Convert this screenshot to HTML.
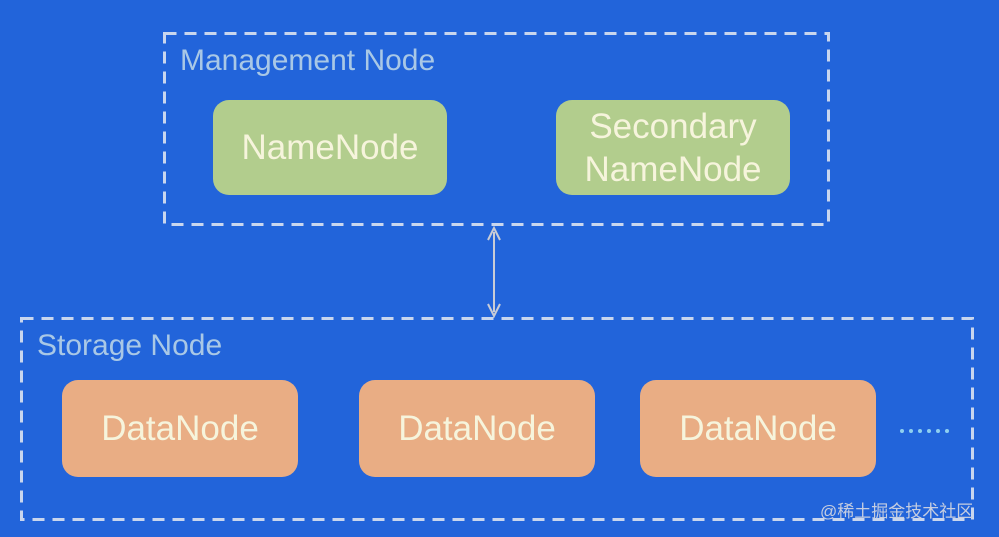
<!DOCTYPE html><html><head><style>
body{margin:0;width:999px;height:537px;background:#2264da;position:relative;overflow:hidden;font-family:"Liberation Sans",sans-serif}
.b{position:absolute;border-radius:16px;display:flex;align-items:center;justify-content:center;text-align:center;color:#f6f4dc;font-size:35px;line-height:43px}
.g{background:#b2cd8d;top:100px;height:95px;width:234px}
.o{background:#e9ad84;top:380px;height:97px;width:236px}
.l{position:absolute;color:#a9c8e6;font-size:30px}
</style></head><body>
<svg style="position:absolute;left:0;top:0" width="999" height="537">
<rect x="164.5" y="33.5" width="664" height="191" fill="none" stroke="#c9d6ee" stroke-width="3" stroke-dasharray="12 8"/>
<rect x="21.5" y="318.5" width="951" height="201" fill="none" stroke="#c9d6ee" stroke-width="3" stroke-dasharray="12 8"/>
<line x1="494" y1="232" x2="494" y2="312" stroke="#c9ccd6" stroke-width="2"/>
<path d="M488 240 L494 228 L500 240" fill="none" stroke="#c9ccd6" stroke-width="2"/>
<path d="M488 304 L494 316 L500 304" fill="none" stroke="#c9ccd6" stroke-width="2"/>
<g fill="#8fd0f0"><circle cx="902" cy="431" r="2"/><circle cx="911" cy="431" r="2"/><circle cx="920" cy="431" r="2"/><circle cx="929" cy="431" r="2"/><circle cx="938" cy="431" r="2"/><circle cx="947" cy="431" r="2"/></g>
</svg>
<div class="l" style="left:180px;top:44px">Management Node</div>
<div class="b g" style="left:213px">NameNode</div>
<div class="b g" style="left:556px">Secondary<br>NameNode</div>
<div class="l" style="left:37px;top:329px">Storage Node</div>
<div class="b o" style="left:62px">DataNode</div>
<div class="b o" style="left:359px">DataNode</div>
<div class="b o" style="left:640px">DataNode</div>
<div style="position:absolute;left:820px;top:497px;color:#c5cde0;font-size:17px;font-family:'Liberation Sans','Noto Sans CJK SC',sans-serif">@稀土掘金技术社区</div>
</body></html>
